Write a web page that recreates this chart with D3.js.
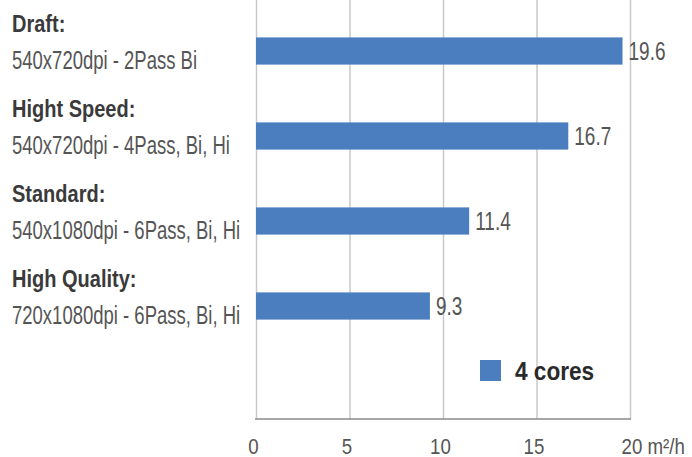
<!DOCTYPE html>
<html>
<head>
<meta charset="utf-8">
<script src="https://cdn.jsdelivr.net/npm/d3@7"></script>
<style>
  html, body { margin: 0; padding: 0; background: #fff; }
  svg { display: block; font-family: "Liberation Sans", Arial, sans-serif; }
  .grid line { stroke: #c9c9c9; stroke-width: 1.5; }
  .grid .domain { display: none; }
  .title { font-weight: bold; fill: #3a3a3a; font-size: 23px; }
  .sub { fill: #555; font-size: 25px; }
  .val { fill: #555; font-size: 25px; }
  .tick text { fill: #555; font-size: 22px; }
</style>
</head>
<body>
<svg id="chart" width="692" height="457"></svg>
<script>
// chart data
const modes = ["Draft:", "Hight Speed:", "Standard:", "High Quality:"];
const settings = ["540x720dpi - 2Pass Bi", "540x720dpi - 4Pass, Bi, Hi", "540x1080dpi - 6Pass, Bi, Hi", "720x1080dpi - 6Pass, Bi, Hi"];
const speeds = [19.6, 16.7, 11.4, 9.3];
const xTicks = [0, 5, 10, 15, 20];
const unit = "m²/h";
const seriesName = "4 cores";

const svg = d3.select('#chart');
const plot = { left: 256, right: 630, top: 0, bottom: 419 };

// no condensed font available, squeeze a regular one
const squeeze = (px, py, s) => `translate(${px},${py}) scale(${s},1)`;

const x = d3.scaleLinear().domain([0, 20]).range([plot.left, plot.right]);
const y = d3.scaleBand().domain(modes).range([8.5, 348.5])
    .paddingInner(0.68).paddingOuter(0.34);

// grid + tick labels
const axis = svg.append('g')
    .attr('class', 'grid')
    .attr('transform', `translate(0,${plot.bottom})`)
    .call(d3.axisBottom(x).tickValues(xTicks).tickSize(-(plot.bottom - plot.top)).tickPadding(0)
        .tickFormat(d => d === 20 ? `20 ${unit}` : d));

axis.selectAll('.tick text')
    .attr('dy', 0)
    .attr('y', 0)
    .attr('transform', d => squeeze(d === 20 ? -9 : -3, 35, 0.85))
    .attr('text-anchor', d => d === 20 ? 'start' : 'middle');

// baseline
svg.append('line')
    .attr('x1', plot.left - 1).attr('x2', plot.right + 1)
    .attr('y1', plot.bottom).attr('y2', plot.bottom)
    .attr('stroke', '#8a8a8a').attr('stroke-width', 1.6);

// bars
svg.append('g').selectAll('rect')
    .data(speeds)
    .join('rect')
    .attr('x', x(0))
    .attr('y', (d, i) => y(modes[i]))
    .attr('width', d => x(d) - x(0))
    .attr('height', y.bandwidth())
    .attr('fill', '#4a7ebf');

// value labels
svg.append('g').selectAll('text')
    .data(speeds)
    .join('text')
    .attr('class', 'val')
    .attr('transform', (d, i) => squeeze(x(d) + 6, y(modes[i]) + y.bandwidth() / 2 + 9, 0.76))
    .text(d => d.toFixed(1));

// category labels
const labels = svg.append('g').selectAll('g')
    .data(modes)
    .join('g')
    .attr('transform', d => `translate(12,${y(d) + y.bandwidth() / 2})`);

labels.append('text')
    .attr('class', 'title')
    .attr('transform', squeeze(0, -19, 0.87))
    .text(d => d);

labels.append('text')
    .attr('class', 'sub')
    .attr('transform', squeeze(0, 18, 0.74))
    .text((d, i) => settings[i]);

// legend
const legend = svg.append('g').attr('transform', 'translate(480,360)');
legend.append('rect')
    .attr('width', 21).attr('height', 21)
    .attr('fill', '#4a7ebf');
legend.append('text')
    .attr('transform', squeeze(35, 20, 0.87))
    .attr('font-size', 26).attr('font-weight', 'bold').attr('fill', '#2a2a2a')
    .text(seriesName);
</script>
</body>
</html>
